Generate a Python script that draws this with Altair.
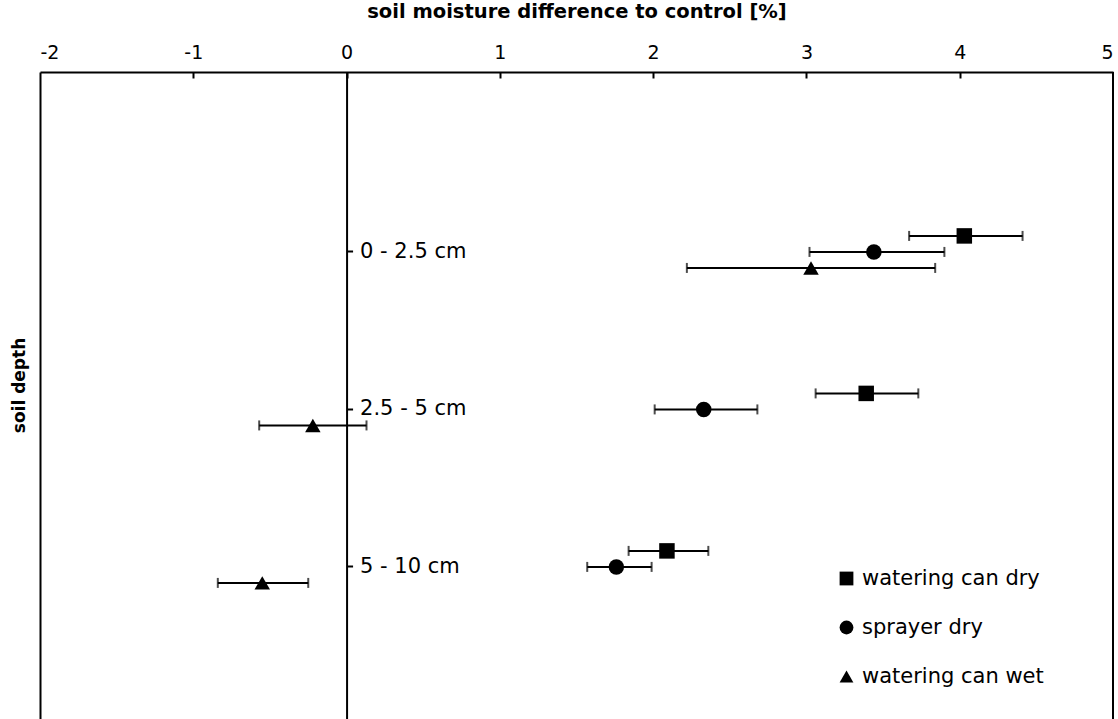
import altair as alt
import pandas as pd

depths = ["0 - 2.5 cm", "2.5 - 5 cm", "5 - 10 cm"]
series = ["watering can dry", "sprayer dry", "watering can wet"]
shapes = ["square", "circle", "triangle-up"]

wc_dry = [4.03, 3.39, 2.09]
wc_dry_lo = [3.67, 3.06, 1.84]
wc_dry_hi = [4.41, 3.73, 2.36]

sp_dry = [3.44, 2.33, 1.76]
sp_dry_lo = [3.02, 2.01, 1.57]
sp_dry_hi = [3.90, 2.68, 1.99]

wc_wet = [3.03, -0.22, -0.55]
wc_wet_lo = [2.22, -0.57, -0.84]
wc_wet_hi = [3.84, 0.13, -0.25]

x_domain = [-2, 5]
x_labels = [-2, -1, 0, 1, 2, 3, 4, 5]
x_ticks = [-1, 0, 1, 2, 3, 4]

rows = []
for name, vals, los, his in [
    (series[0], wc_dry, wc_dry_lo, wc_dry_hi),
    (series[1], sp_dry, sp_dry_lo, sp_dry_hi),
    (series[2], wc_wet, wc_wet_lo, wc_wet_hi),
]:
    for d, v, lo, hi in zip(depths, vals, los, his):
        rows.append({"depth": d, "series": name, "value": v, "lo": lo, "hi": hi})
df = pd.DataFrame(rows)

W = 1073
H = 647
FONT = "DejaVu Sans"

xscale = alt.Scale(domain=x_domain, nice=False, zero=False)
yscale = alt.Scale(paddingInner=0.695, paddingOuter=0.9016, align=0.549)
yoff = alt.YOffset("series:N", sort=series, scale=alt.Scale(paddingInner=0, paddingOuter=0))

base = alt.Chart(df)

points = base.mark_point(filled=True, opacity=1, color="black", size=240).encode(
    x=alt.X(
        "value:Q",
        scale=xscale,
        axis=alt.Axis(
            orient="top", values=x_labels, ticks=False, tickSize=0, domain=False, grid=False,
            title="soil moisture difference to control [%]",
            labelExpr="datum.value + ''",
            labelFontSize=19, labelPadding=10, titleFontSize=19.5, titleFontWeight="bold",
            titlePadding=22,
        ),
    ),
    y=alt.Y(
        "depth:N", sort=depths, scale=yscale,
        axis=alt.Axis(
            orient="left", labels=False, ticks=False, domain=True, grid=False,
            title="soil depth", titleFontSize=17, titleFontWeight="bold", titlePadding=12,
            titleY=313, domainColor="black", domainWidth=2,
        ),
    ),
    yOffset=yoff,
    shape=alt.Shape(
        "series:N", sort=series,
        scale=alt.Scale(domain=series, range=shapes),
        legend=alt.Legend(
            title=None, orient="none", legendX=796, legendY=496, padding=0,
            labelFontSize=21, labelFont=FONT, labelColor="black", labelLimit=400,
            symbolSize=190, rowPadding=27, labelOffset=5, symbolStrokeWidth=0,
            symbolFillColor="black",
        ),
    ),
)

bars = base.mark_rule(color="black", strokeWidth=2).encode(
    x=alt.X(
        "lo:Q", scale=xscale,
        axis=alt.Axis(
            orient="bottom", offset=-H, values=x_ticks, labels=False, ticks=True, tickSize=6,
            tickWidth=2, tickColor="black", domain=True, domainColor="black", domainWidth=2,
            grid=False, title=None,
        ),
    ),
    x2="hi:Q",
    y=alt.Y(
        "depth:N", sort=depths, scale=yscale,
        axis=alt.Axis(
            orient="right", offset=-W * 5 / 7, labels=True, ticks=True, tickSize=6,
            tickWidth=2, tickColor="black", domain=True, domainColor="black", domainWidth=2,
            grid=False, title=None, labelFontSize=21, labelPadding=7, labelLimit=300,
        ),
    ),
    yOffset=yoff,
)

caps = base.transform_fold(["lo", "hi"], as_=["end", "xv"]).mark_tick(
    color="black", thickness=2, size=10
).encode(
    x=alt.X("xv:Q", scale=xscale, axis=None),
    y=alt.Y("depth:N", sort=depths, scale=yscale, axis=None),
    yOffset=yoff,
)

border = alt.Chart(pd.DataFrame({"xb": [x_domain[1]]})).mark_rule(
    color="black", strokeWidth=2
).encode(x=alt.X("xb:Q", scale=xscale, axis=None))

chart = (
    alt.layer(bars, caps, points, border)
    .resolve_axis(x="independent", y="independent")
    .properties(
        width=W, height=H,
        autosize=alt.AutoSizeParams(type="none"),
        padding={"left": 40, "top": 72, "right": 5, "bottom": 0},
        background="white",
    )
    .configure_view(stroke=None)
    .configure_axis(labelColor="black", titleColor="black", labelFont=FONT, titleFont=FONT)
    .configure_legend(labelFont=FONT)
)

chart.save("out.html", embed_options={"renderer": "svg", "actions": False})
